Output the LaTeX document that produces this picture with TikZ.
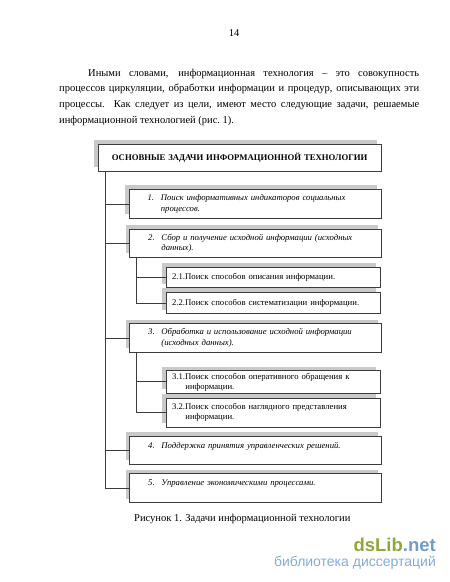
\documentclass[tikz,border=0pt]{standalone}
\usepackage{fontspec}
\setmainfont{Liberation Serif}
\newfontfamily\logofont{Liberation Sans}
\usetikzlibrary{shadows,positioning}
\definecolor{ramka}{HTML}{3C3C3C}
\definecolor{ten}{HTML}{C9C9C9}
\definecolor{logozel}{HTML}{8FA83C}
\definecolor{logosin}{HTML}{6F9CCB}

\begin{document}
\begin{tikzpicture}[
    x=1pt, y=-1pt,
    stroka/.style={
        inner sep=0pt,
        anchor=base west,
        font=\fontsize{10.5}{15.5}\selectfont
    },
    blok/.style={
        draw=ramka,
        line width=0.8pt,
        fill=white,
        anchor=north west,
        inner ysep=0pt,
        align=left,
        drop shadow={shadow xshift=-4pt, shadow yshift=4pt, fill=ten, opacity=1}
    },
    glavnaya/.style={
        blok,
        inner xsep=2pt,
        text width=279pt,
        minimum height=27pt,
        align=center,
        font=\fontsize{8.7}{10}\selectfont\bfseries
    },
    zadacha/.style={
        blok,
        inner xsep=18.5pt,
        text width=215pt,
        font=\fontsize{8.7}{10.2}\selectfont\itshape
    },
    podzadacha/.style={
        blok,
        inner xsep=5.7pt,
        text width=202.6pt,
        font=\fontsize{8.7}{10}\selectfont
    },
    svyaz/.style={
        draw=ramka,
        line width=0.8pt
    }
]

\useasboundingbox (0,0) rectangle (450,582);

% ---------------- ТЕКСТ СТРАНИЦЫ ----------------

\node[stroka, anchor=base] (nomer) at (234,36) {14};

\node[stroka] (s1) at (88,76)
    {\makebox[331pt][s]{Иными словами, информационная технология – это совокупность}};
\node[stroka] (s2) at (59,91.5)
    {\makebox[360pt][s]{процессов циркуляции, обработки информации и процедур, описывающих эти}};
\node[stroka] (s3) at (59,107.5)
    {\makebox[360pt][s]{процессы. Как следует из цели, имеют место следующие задачи, решаемые}};
\node[stroka] (s4) at (59,123)
    {информационной технологией (рис.~1).};


% ---------------- БЛОКИ ----------------

\node[glavnaya] (glav) at (97.7,144)
    {ОСНОВНЫЕ ЗАДАЧИ ИНФОРМАЦИОННОЙ ТЕХНОЛОГИИ};

\node[zadacha, minimum height=29pt] (z1) at (128.7,189)
    {\makebox[13.2pt][l]{1.}Поиск информативных индикаторов социальных\\
     \hspace*{13.2pt}процессов.};

\node[zadacha, minimum height=28pt] (z2) at (129.3,229)
    {\makebox[13.2pt][l]{2.}Сбор и получение исходной информации (исходных\\
     \hspace*{13.2pt}данных).};

\node[podzadacha, minimum height=20.6pt] (p21) at (166,266.7)
    {2.1.Поиск способов описания информации.};

\node[podzadacha, minimum height=21.6pt] (p22) at (166,291.7)
    {2.2.Поиск способов систематизации информации.};

\node[zadacha, minimum height=28.4pt] (z3) at (129.3,323.3)
    {\makebox[13.2pt][l]{3.}Обработка и использование исходной информации\\
     \hspace*{13.2pt}(исходных данных).};

\node[podzadacha, minimum height=22.5pt] (p31) at (166,370.2)
    {3.1.Поиск способов оперативного обращения к\\
     \hspace*{13.3pt}информации.};

\node[podzadacha, minimum height=29pt] (p32) at (166,397.7)
    {3.2.Поиск способов наглядного представления\\
     \hspace*{13.3pt}информации.};

\node[zadacha, minimum height=28.5pt] (z4) at (129.3,435.5)
    {\makebox[13.2pt][l]{4.}Поддержка принятия управленческих решений.\\ \mbox{}};

\node[zadacha, minimum height=29pt] (z5) at (129.3,473.3)
    {\makebox[13.2pt][l]{5.}Управление экономическими процессами.\\ \mbox{}};


% ---------------- СВЯЗИ ----------------

\coordinate (stvol) at ([xshift=8pt]glav.south west);
\coordinate (vetv2) at ([xshift=7.4pt]z2.south west);
\coordinate (vetv3) at ([xshift=7.4pt]z3.south west);

\draw[svyaz] (stvol) |- (z5.west);
\foreach \z in {z1,z2,z3,z4}
    \draw[svyaz] (stvol |- \z.west) -- (\z.west);

\draw[svyaz] (vetv2) |- (p22.west);
\draw[svyaz] (vetv2 |- p21.west) -- (p21.west);

\draw[svyaz] (vetv3) |- (p32.west);
\draw[svyaz] (vetv3 |- p31.west) -- (p31.west);


% ---------------- ПОДПИСЬ ----------------

\node[stroka] (podpis) at (134,521.5)
    {Рисунок 1. Задачи информационной технологии};

% логотип
\node[inner sep=0pt, anchor=base east, font=\logofont\bfseries\fontsize{18.5}{20}\selectfont]
    (logo) at (436,551) {\textcolor{logozel}{dsLib}\textcolor{logosin}{.net}};
\node[inner sep=0pt, anchor=base east, font=\logofont\fontsize{14}{16}\selectfont,
    text=logosin!85] (logotekst) at (436,566) {библиотека диссертаций};

\end{tikzpicture}
\end{document}
